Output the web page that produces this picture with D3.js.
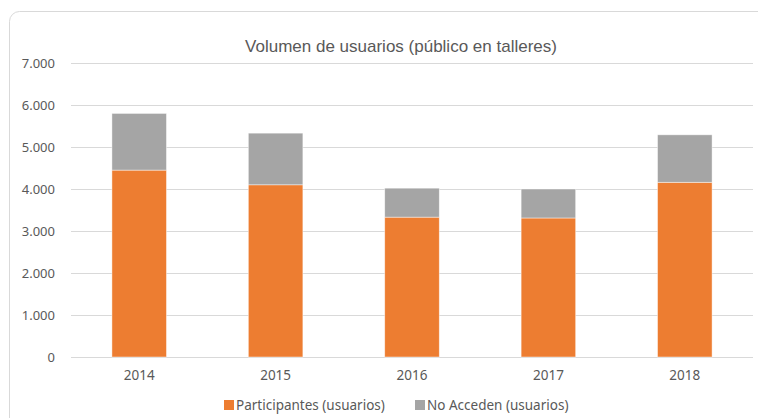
<!DOCTYPE html>
<html>
<head>
<meta charset="utf-8">
<script src="https://cdn.jsdelivr.net/npm/d3@7"></script>
<style>
  html, body { margin: 0; padding: 0; background: #fff; }
  svg { display: block; }
</style>
</head>
<body>
<svg id="chart" width="758" height="418"></svg>
<script>
// Workshop audience per year, stacked: participants + those who did not get in
const years = ["2014", "2015", "2016", "2017", "2018"];
const participantes = [4450, 4100, 3330, 3310, 4160];
const noAcceden = [1350, 1230, 690, 690, 1130];
const yTicks = [0, 1000, 2000, 3000, 4000, 5000, 6000, 7000];
const seriesNames = ["Participantes (usuarios)", "No Acceden (usuarios)"];
const seriesColors = ["#ed7d31", "#a5a5a5"];

const svg = d3.select("#chart");
const W = 758, H = 418;
const margin = { left: 71, right: 5, top: 63, bottom: 61 };
const fontAxis = "'Noto Sans', 'Open Sans', sans-serif";

// card outline
svg.append("rect")
  .attr("x", 9.5).attr("y", 11.5)
  .attr("width", 800).attr("height", 500)
  .attr("rx", 10)
  .attr("fill", "#fff")
  .attr("stroke", "#d9d9d9");

const x = d3.scaleBand()
  .domain(years)
  .range([margin.left, W - margin.right])
  .paddingInner(0.6)
  .paddingOuter(0.3);

const y = d3.scaleLinear()
  .domain([0, 7000])
  .range([H - margin.bottom, margin.top]);

const fmt = v => d3.format(",")(v).replace(/,/g, ".");

// horizontal gridlines + y labels
const yAxis = d3.axisLeft(y)
  .tickValues(yTicks)
  .tickSize(-(W - margin.right - margin.left))
  .tickPadding(16)
  .tickFormat(fmt);

const gy = svg.append("g")
  .attr("transform", `translate(${margin.left},0)`)
  .call(yAxis);
gy.select(".domain").remove();
gy.selectAll(".tick line").attr("stroke", "#d9d9d9").attr("stroke-width", 1);
gy.selectAll(".tick text")
  .attr("fill", "#595959")
  .style("font-family", fontAxis)
  .style("font-size", "13px");

// stacked bars
const rows = years.map((yr, i) => ({ year: yr, Participantes: participantes[i], NoAcceden: noAcceden[i] }));
const stack = d3.stack().keys(["Participantes", "NoAcceden"]);
const layers = stack(rows);

svg.append("g")
  .selectAll("g")
  .data(layers)
  .join("g")
  .attr("fill", (d, i) => seriesColors[i])
  .selectAll("rect")
  .data(d => d)
  .join("rect")
  .attr("x", d => x(d.data.year))
  .attr("width", x.bandwidth())
  .attr("y", d => y(d[1]))
  .attr("height", d => y(d[0]) - y(d[1]))
  .attr("stroke", "#ffffff")
  .attr("stroke-opacity", 0.6)
  .attr("stroke-width", 0.75);

// x axis labels
const xAxis = d3.axisBottom(x).tickSize(0).tickPadding(13);
const gx = svg.append("g")
  .attr("transform", `translate(0,${H - margin.bottom})`)
  .call(xAxis);
gx.select(".domain").remove();
gx.selectAll(".tick text")
  .attr("fill", "#595959")
  .style("font-family", fontAxis)
  .style("font-size", "13.5px");

// title
svg.append("text")
  .attr("x", 401).attr("y", 52)
  .attr("text-anchor", "middle")
  .attr("fill", "#595959")
  .style("font-family", "'Liberation Sans', Arial, sans-serif")
  .style("font-size", "17px")
  .text("Volumen de usuarios (público en talleres)");

// legend
const legendItems = [
  { name: seriesNames[0], color: seriesColors[0], x: 224 },
  { name: seriesNames[1], color: seriesColors[1], x: 415 }
];
const lg = svg.append("g");
legendItems.forEach(it => {
  lg.append("rect")
    .attr("x", it.x).attr("y", 400)
    .attr("width", 10).attr("height", 10)
    .attr("fill", it.color);
  lg.append("text")
    .attr("x", it.x + 12).attr("y", 410)
    .attr("fill", "#595959")
    .style("font-family", fontAxis)
    .style("font-size", "13.5px")
    .text(it.name);
});
</script>
</body>
</html>
